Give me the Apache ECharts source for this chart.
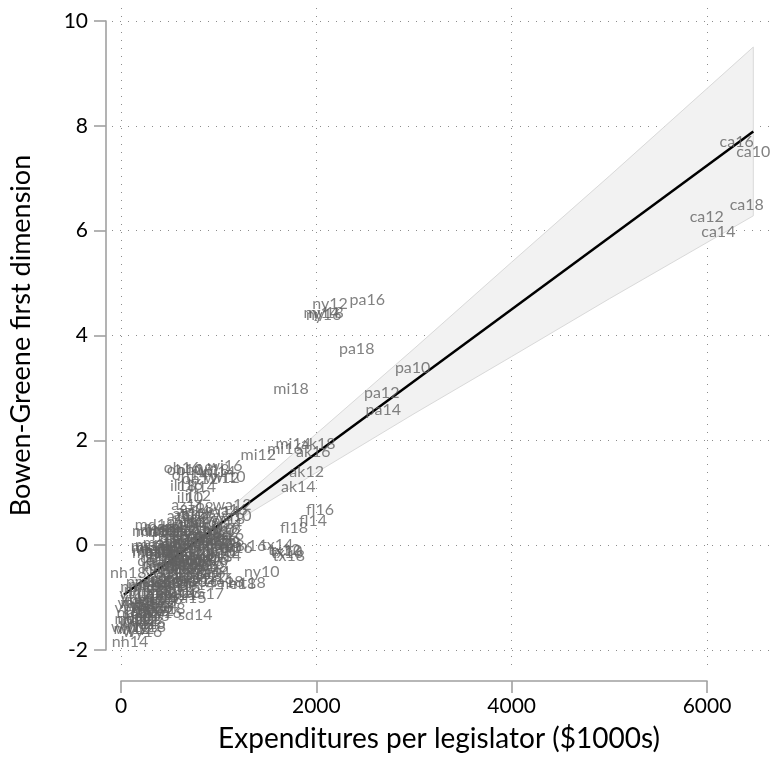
<!DOCTYPE html>
<html><head><meta charset="utf-8">
<script src="https://cdn.jsdelivr.net/npm/echarts@6/dist/echarts.min.js"></script>
<style>html,body{margin:0;padding:0;background:#fff}#c{width:771px;height:758px}</style>
</head><body><div id="c"></div>
<script>
// state-year labels, expenditures per legislator ($1000s), Bowen-Greene first dimension
const labels = [
 'ca10','ca12','ca14','ca16','ca18',
 'pa10','pa12','pa14','pa16','pa18',
 'ny10','ny12','ny14','ny16','ny18',
 'mi12','mi14','mi16','mi18',
 'ak12','ak14','ak16','ak18',
 'fl14','fl16','fl18',
 'tx10','tx12','tx14','tx16','tx18',
 'oh10','oh12','oh14','oh16','oh18',
 'wi10','wi12','wi14','wi16','wi18',
 'il10','il12','il14','il16','il18',
 'az10','az12','az14','az16','az18',
 'wa10','wa12','wa14','wa16','wa18',
 'hi10','hi12','hi14','hi16','hi18',
 'al10','al12','al14','al16','al18',
 'ar10','ar12','ar14','ar16','ar18',
 'co10','co12','co14','co16','co18',
 'ct10','ct12','ct14','ct16','ct18',
 'de10','de12','de14','de16','de18',
 'ga10','ga12','ga14','ga16','ga18',
 'id10','id12','id14','id16','id18',
 'in10','in12','in14','in16','in18',
 'ia10','ia12','ia14','ia16','ia18',
 'ks10','ks12','ks14','ks16','ks18',
 'ky10','ky12','ky14','ky16','ky18',
 'la10','la12','la14','la16','la18',
 'me10','me12','me14','me16','me18',
 'md10','md12','md14','md16','md18',
 'ma10','ma12','ma14','ma16','ma18',
 'mn10','mn12','mn14','mn16','mn18',
 'ms10','ms12','ms14','ms16','ms18',
 'mo10','mo12','mo14','mo16','mo18',
 'mt10','mt12','mt14','mt16','mt18',
 'ne10','ne12','ne14','ne16','ne18',
 'nv10','nv12','nv14','nv16','nv18',
 'nh10','nh12','nh14','nh16','nh18',
 'nj10','nj12','nj14','nj16','nj18',
 'nm10','nm12','nm14','nm16','nm18',
 'nc10','nc12','nc14','nc16','nc18',
 'nd10','nd12','nd14','nd16','nd18',
 'ok10','ok12','ok14','ok16','ok18',
 'or10','or12','or14','or16','or18',
 'ri10','ri12','ri14','ri16','ri18',
 'sc10','sc12','sc14','sc16','sc18',
 'sd10','sd12','sd14','sd16','sd18',
 'tn10','tn12','tn14','tn16','tn18',
 'ut10','ut12','ut14','ut16','ut18',
 'vt10','vt12','vt14','vt16','vt18',
 'va11','va13','va15','va17',
 'wv10','wv12','wv14','wv16','wv18',
 'wy10','wy12','wy14','wy16','wy18'
];
const expend = [
 6474,5997,6116,6304,6407,
 2986,2669,2686,2522,2413,
 1441,2140,2050,2075,2100,
 1406,1763,1679,1741,
 1901,1815,1969,2020,
 1966,2037,1771,
 1690,1670,1600,1700,1720,
 655,809,706,625,758,
 1096,1034,993,1065,932,
 706,788,840,706,635,
 640,700,740,686,778,
 1137,1137,1014,1096,1070,
 700,740,780,820,860,
 520,560,600,640,680,
 420,460,500,540,580,
 700,740,780,820,860,
 600,640,680,720,760,
 350,380,410,440,470,
 620,660,700,740,780,
 300,340,380,420,460,
 660,700,740,780,820,
 880,920,960,1000,1100,
 380,420,460,500,540,
 760,800,840,880,920,
 980,820,860,900,940,
 200,240,280,320,360,
 400,360,440,480,348,
 320,317,440,360,400,
 900,940,980,1280,1020,
 300,340,380,297,420,
 580,620,660,700,740,
 500,540,580,620,1290,
 700,740,780,820,1200,
 800,840,880,920,960,
 120,110,92,140,75,
 1000,1040,1080,1100,1060,
 200,240,280,320,260,
 880,920,960,1000,1040,
 150,190,230,270,300,
 520,560,600,640,680,
 1000,1040,1060,1178,1096,
 420,460,500,540,580,
 460,500,540,580,620,
 200,240,760,280,320,
 600,640,680,720,760,
 300,340,380,420,460,
 100,150,130,160,180,
 600,640,700,877,
 300,340,380,420,460,
 100,140,180,220,260
];
const bgDim = [
 7.51,6.26,5.97,7.70,6.49,
 3.39,2.90,2.58,4.68,3.74,
 -0.51,4.61,4.43,4.40,4.43,
 1.72,1.93,1.84,2.98,
 1.40,1.12,1.78,1.94,
 0.46,0.67,0.33,
 -0.10,-0.08,0.01,-0.14,-0.21,
 1.44,1.27,1.35,1.47,1.44,
 1.30,1.28,1.40,1.51,1.44,
 0.90,0.94,1.11,1.15,1.13,
 0.55,0.60,0.65,0.77,0.71,
 0.56,0.77,0.63,0.67,0.50,
 0.45,0.50,0.55,0.45,0.40,
 0.05,0.10,0.02,-0.05,0.12,
 -0.10,-0.05,-0.15,-0.02,-0.12,
 0.20,0.25,0.15,0.30,0.22,
 0.35,0.30,0.38,0.42,0.33,
 -0.30,-0.25,-0.35,-0.28,-0.20,
 -0.20,-0.15,-0.25,-0.10,-0.18,
 -0.75,-0.70,-0.80,-0.65,-0.72,
 0.05,0.00,0.08,-0.02,0.10,
 -0.55,-0.60,-0.50,-0.65,-0.70,
 -0.45,-0.40,-0.50,-0.38,-0.46,
 -0.45,-0.40,-0.50,-0.35,-0.42,
 0.08,0.10,0.05,0.12,0.02,
 -1.10,-1.05,-1.15,-1.20,-1.08,
 0.30,0.25,0.35,0.28,0.39,
 -0.10,-0.15,-0.08,-0.05,-0.12,
 -0.05,0.00,-0.08,-0.02,0.04,
 -0.05,0.00,-0.08,-0.02,0.05,
 -0.40,-0.35,-0.45,-0.38,-0.30,
 -0.90,-0.85,-0.95,-0.80,-0.72,
 -0.70,-0.65,-0.75,-0.68,-0.73,
 -0.25,-0.30,-0.20,-0.28,-0.22,
 -1.40,-1.60,-1.84,-1.30,-0.53,
 0.30,0.25,0.40,0.20,0.32,
 -0.80,-0.85,-0.75,-0.90,-0.70,
 0.20,0.25,0.15,0.10,0.05,
 -1.40,-1.45,-1.35,-1.50,0.28,
 -0.55,-0.60,-0.50,-0.62,-0.55,
 -0.15,-0.10,-0.20,-0.05,-0.02,
 0.25,0.20,0.30,0.15,0.25,
 -0.70,-0.75,-0.65,-0.72,-0.68,
 -1.30,-1.40,-1.33,-1.25,-1.35,
 -0.30,-0.28,-0.35,-0.22,-0.32,
 -1.00,-0.95,-1.05,-0.98,-1.02,
 -1.20,-0.92,-1.10,-1.00,-1.15,
 -0.95,-0.90,-1.00,-0.92,
 -1.20,-1.25,-1.15,-1.30,-1.22,
 -1.55,-1.60,-1.50,-1.65,-1.55
];
// fitted line and its confidence band
const fitX = [30, 6474];
const fitY = [-0.948, 7.893];
const bandX = [30, 300, 600, 1000, 2000, 3000, 4000, 5000, 6474];
const bandUpper = [-0.778, -0.457, -0.066, 0.513, 2.125, 3.747, 5.399, 7.041, 9.503];
const bandLower = [-1.118, -0.697, -0.266, 0.253, 1.385, 2.507, 3.599, 4.701, 6.283];
const xTicks = [0, 2000, 4000, 6000];
const yTicks = [-2, 0, 2, 4, 6, 8, 10];

const FONT = 'Lato';
const chart = echarts.init(document.getElementById('c'), null, {renderer: 'canvas'});
const pts = labels.map((n, i) => ({name: n, value: [expend[i], bgDim[i]]}));
const dotted = {type: [1, 7], color: '#8c8c8c', width: 1};
const axisGrey = {color: '#a0a0a0', width: 1.6};

chart.setOption({
  animation: false,
  backgroundColor: '#fff',
  grid: [
    {left: 107, right: 0, top: 10, height: 656},
    {left: 121, width: 586, top: 8, height: 658},
    {left: 112, right: 0, top: 21, height: 629}
  ],
  xAxis: [
    {gridIndex: 0, type: 'value', min: -143.34, max: 6655.29,
     axisLine: {show: false}, axisTick: {show: false}, axisLabel: {show: false}, splitLine: {show: false},
     name: 'Expenditures per legislator ($1000s)', nameLocation: 'middle', nameGap: 59,
     nameTextStyle: {fontFamily: FONT, fontSize: 28, color: '#000'}},
    {gridIndex: 1, type: 'value', min: xTicks[0], max: xTicks[xTicks.length - 1], interval: 2000,
     position: 'bottom', offset: 15,
     axisLine: {show: true, onZero: false, lineStyle: axisGrey},
     axisTick: {show: true, length: 12, lineStyle: axisGrey},
     axisLabel: {color: '#000', fontFamily: FONT, fontSize: 21, margin: 15,
                 formatter: v => String(v)},
     splitLine: {show: true, lineStyle: dotted}},
    {gridIndex: 2, type: 'value', min: 0, max: 1, show: false}
  ],
  yAxis: [
    {gridIndex: 0, type: 'value', min: -2.3052, max: 10.2099, show: false},
    {gridIndex: 1, type: 'value', min: 0, max: 1, show: false},
    {gridIndex: 2, type: 'value', min: yTicks[0], max: yTicks[yTicks.length - 1], interval: 2,
     position: 'left', offset: 6,
     axisLine: {show: true, onZero: false, lineStyle: axisGrey},
     axisTick: {show: true, length: 12, lineStyle: axisGrey},
     axisLabel: {color: '#000', fontFamily: FONT, fontSize: 21, margin: 18},
     splitLine: {show: true, lineStyle: dotted},
     name: 'Bowen-Greene first dimension', nameLocation: 'middle', nameGap: 71,
     nameTextStyle: {fontFamily: FONT, fontSize: 27, color: '#000'}}
  ],
  series: [
    {type: 'custom', xAxisIndex: 0, yAxisIndex: 0, data: [[0, 0]], silent: true, z: 1, clip: false,
     renderItem: function (params, api) {
       const poly = [];
       for (let i = 0; i < bandX.length; i++) poly.push(api.coord([bandX[i], bandUpper[i]]));
       for (let i = bandX.length - 1; i >= 0; i--) poly.push(api.coord([bandX[i], bandLower[i]]));
       return {type: 'polygon', shape: {points: poly},
               style: {fill: '#f2f2f2', stroke: '#d9d9d9', lineWidth: 1}};
     }},
    {type: 'line', xAxisIndex: 0, yAxisIndex: 0, z: 2, silent: true, symbol: 'none',
     data: fitX.map((x, i) => [x, fitY[i]]),
     lineStyle: {color: '#000', width: 2.5}},
    {type: 'scatter', xAxisIndex: 0, yAxisIndex: 0, z: 3, silent: true,
     symbol: 'circle', symbolSize: 1, itemStyle: {color: 'rgba(0,0,0,0)'},
     data: pts,
     label: {show: true, position: 'inside', formatter: '{b}',
             color: '#626262', fontFamily: FONT, fontSize: 16}}
  ]
});
</script>
</body></html>
